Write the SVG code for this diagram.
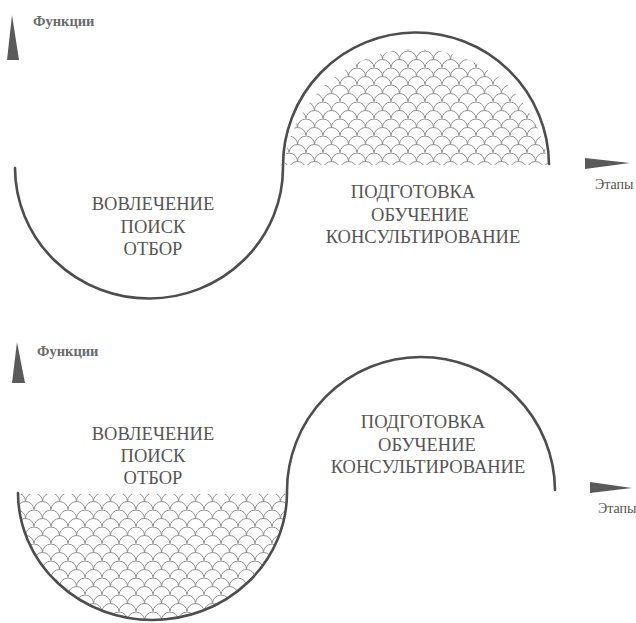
<svg xmlns="http://www.w3.org/2000/svg" width="636" height="623" viewBox="0 0 636 623">
  <style>
    .curve { fill: none; stroke: #4d4d4d; stroke-width: 2.6; stroke-linecap: round; }
    .hatch { fill: url(#scales); stroke: none; }
    .big { font-family: "Liberation Serif", "DejaVu Serif", "Noto Serif", serif; font-size: 18.5px; fill: #555; text-anchor: middle; }
    .axis { font-family: "Liberation Serif", "DejaVu Serif", "Noto Serif", serif; font-size: 14.5px; font-weight: bold; fill: #6a6a6a; }
    .axis2 { font-family: "Liberation Serif", "DejaVu Serif", "Noto Serif", serif; font-size: 14px; fill: #555; }
    .wedge { fill: #5a5a5a; }
  </style>
  <defs>
    <pattern id="scales" patternUnits="userSpaceOnUse" width="17" height="17">
      <g fill="none" stroke="#909090" stroke-width="1">
        <path d="M-8.5,8.5 a8.5,8.5 0 0 1 17,0"/>
        <path d="M8.5,8.5 a8.5,8.5 0 0 1 17,0"/>
        <path d="M0,17 a8.5,8.5 0 0 1 17,0"/>
        <path d="M0,0 a8.5,8.5 0 0 1 17,0"/>
      </g>
    </pattern>
  </defs>
  <rect width="636" height="623" fill="#ffffff"/>

  <g id="top-panel">
    <g id="top-axes">
      <polygon class="wedge" points="12,15 7,60 19,60"/>
      <text class="axis" x="33" y="26">Функции</text>
      <polygon class="wedge" points="585,158 630,163 585,169"/>
      <text class="axis2" x="595" y="189">Этапы</text>
    </g>
    <g id="top-hatch">
      <path class="hatch" d="M284,165 A133,132 0 0 1 548,165 Z"/>
    </g>
    <g id="connectors-top">
      <path class="curve" d="M15,168 A134,131 0 0 0 283,167 A133,133 0 0 1 549,164"/>
    </g>
    <g id="top-left-node">
      <text class="big" x="153" y="210">ВОВЛЕЧЕНИЕ</text>
      <text class="big" x="153" y="233">ПОИСК</text>
      <text class="big" x="153" y="255">ОТБОР</text>
    </g>
    <g id="top-right-node">
      <text class="big" x="413" y="198">ПОДГОТОВКА</text>
      <text class="big" x="420" y="221">ОБУЧЕНИЕ</text>
      <text class="big" x="423" y="243">КОНСУЛЬТИРОВАНИЕ</text>
    </g>
  </g>

  <g id="bottom-panel">
    <g id="bottom-axes">
      <polygon class="wedge" points="17,342 12,383 25,383"/>
      <text class="axis" x="37" y="356">Функции</text>
      <polygon class="wedge" points="590,482 632,488 590,493"/>
      <text class="axis2" x="598" y="513">Этапы</text>
    </g>
    <g id="bottom-hatch">
      <path class="hatch" d="M18,494 A134,127 0 0 0 286,494 Z"/>
    </g>
    <g id="connectors-bottom">
      <path class="curve" d="M18,493 A134,127 0 0 0 287,492 A134,134 0 0 1 555,490"/>
    </g>
    <g id="bottom-left-node">
      <text class="big" x="153" y="440">ВОВЛЕЧЕНИЕ</text>
      <text class="big" x="153" y="462">ПОИСК</text>
      <text class="big" x="153" y="484">ОТБОР</text>
    </g>
    <g id="bottom-right-node">
      <text class="big" x="423" y="428">ПОДГОТОВКА</text>
      <text class="big" x="427" y="451">ОБУЧЕНИЕ</text>
      <text class="big" x="428" y="473">КОНСУЛЬТИРОВАНИЕ</text>
    </g>
  </g>
</svg>
